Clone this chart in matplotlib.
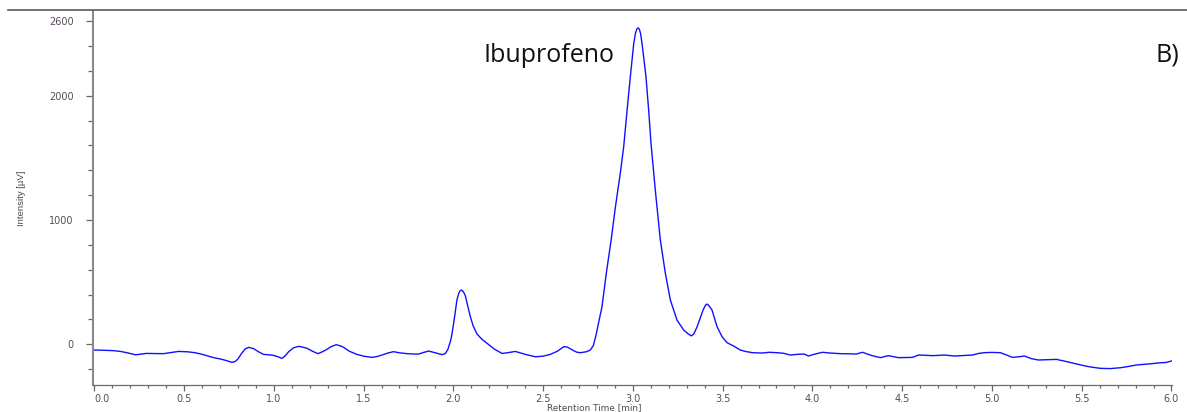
import matplotlib
matplotlib.use("Agg")
import matplotlib.pyplot as plt
from matplotlib.lines import Line2D
from matplotlib.ticker import MultipleLocator, FixedLocator

# Retention time [min]
time_min = [
    0.00, 0.04, 0.08, 0.11, 0.15, 0.19, 0.23, 0.26, 0.29, 0.34, 0.385, 0.43, 0.47, 0.52, 0.56,
    0.60, 0.635, 0.665, 0.70, 0.735, 0.767, 0.785, 0.80, 0.82, 0.84, 0.86, 0.888, 0.915, 0.943,
    0.97, 0.99, 1.02, 1.046, 1.065, 1.083, 1.11, 1.138, 1.16, 1.185, 1.215, 1.246, 1.27, 1.296,
    1.32, 1.348, 1.37, 1.389, 1.42, 1.463, 1.50, 1.547, 1.575, 1.603, 1.635, 1.667, 1.70, 1.742,
    1.78, 1.807, 1.835, 1.862, 1.90, 1.937, 1.955, 1.970, 1.985, 1.993, 2.005, 2.02, 2.030, 2.038,
    2.045, 2.052, 2.060, 2.067, 2.08, 2.095, 2.11, 2.132, 2.16, 2.188, 2.23, 2.271, 2.30, 2.345,
    2.40, 2.457, 2.50, 2.54, 2.58, 2.615, 2.635, 2.67, 2.69, 2.708, 2.74, 2.763, 2.78, 2.797,
    2.81, 2.828, 2.852, 2.879, 2.903, 2.930, 2.949, 2.968, 2.986, 3.005, 3.015, 3.022, 3.029,
    3.036, 3.043, 3.051, 3.073, 3.088, 3.101, 3.125, 3.153, 3.181, 3.209, 3.246, 3.283, 3.310,
    3.326, 3.340, 3.358, 3.391, 3.405, 3.413, 3.422, 3.441, 3.469, 3.497, 3.525, 3.562, 3.599,
    3.63, 3.666, 3.72, 3.76, 3.80, 3.84, 3.877, 3.92, 3.955, 3.978, 4.01, 4.056, 4.10, 4.156,
    4.20, 4.245, 4.279, 4.33, 4.379, 4.423, 4.479, 4.52, 4.557, 4.591, 4.63, 4.669, 4.735, 4.791,
    4.84, 4.891, 4.93, 4.958, 5.00, 5.047, 5.08, 5.114, 5.15, 5.181, 5.22, 5.259, 5.31, 5.359,
    5.42, 5.471, 5.54, 5.604, 5.66, 5.716, 5.76, 5.805, 5.872, 5.939, 5.97, 6.00,
]

# Intensity [µV]
intensity_uv = [
    -46, -47, -49, -51, -58, -70, -84, -79, -73, -74, -75, -65, -57, -60, -67,
    -80, -95, -107, -117, -130, -145, -138, -118, -75, -38, -24, -35, -60, -81,
    -84, -86, -98, -113, -90, -59, -28, -16, -22, -32, -55, -75, -60, -40,
    -18, -3, -12, -24, -55, -81, -95, -105, -98, -86, -70, -59, -68, -75,
    -78, -78, -65, -54, -68, -83, -75, -40, 30, 88, 200, 356, 410, 432,
    437, 430, 412, 390, 310, 222, 150, 83, 40, 8, -40, -73, -68, -57,
    -80, -100, -95, -81, -55, -19, -22, -51, -64, -67, -60, -46, -10, 88,
    180, 302, 571, 839, 1107, 1376, 1590, 1885, 2153, 2421, 2505, 2535, 2546,
    2535, 2500, 2421, 2153, 1885, 1617, 1241, 839, 571, 356, 195, 115, 82,
    68, 85, 142, 276, 316, 324, 314, 276, 142, 61, 13, -14, -46,
    -58, -67, -70, -64, -67, -72, -86, -80, -78, -94, -80, -64, -70, -75,
    -76, -78, -64, -90, -107, -91, -107, -106, -105, -86, -88, -91, -86, -94,
    -90, -86, -72, -67, -65, -67, -85, -105, -100, -94, -115, -126, -123, -121,
    -140, -158, -180, -193, -195, -188, -178, -166, -158, -148, -146, -134,
]

y_major_ticks = [0, 1000, 2000, 2600]
y_minor_ticks = [-200, 200, 400, 600, 800, 1200, 1400, 1600, 1800, 2200, 2400]
x_major_ticks = [0.0, 0.5, 1.0, 1.5, 2.0, 2.5, 3.0, 3.5, 4.0, 4.5, 5.0, 5.5, 6.0]

W, H = 1187, 412
fig = plt.figure(figsize=(W / 100, H / 100), dpi=100)
fig.patch.set_facecolor("white")

left, right = 93, 1172
top, bottom = 11, 385
ax = fig.add_axes([left / W, (H - bottom) / H, (right - left) / W, (bottom - top) / H])

ax.plot(time_min, intensity_uv, color="#1010ff", lw=1.0, solid_joinstyle="round")

ax.set_xlim(-0.007, 6.003)
ax.set_ylim(-327, 2681)

for s in ["top", "right"]:
    ax.spines[s].set_visible(False)
ax.spines["left"].set_color("#8a8a8a")
ax.spines["left"].set_linewidth(1.5)
ax.spines["bottom"].set_color("#6a6a6a")
ax.spines["bottom"].set_linewidth(0.9)

ax.yaxis.set_major_locator(FixedLocator(y_major_ticks))
ax.yaxis.set_minor_locator(FixedLocator(y_minor_ticks))
ax.xaxis.set_major_locator(FixedLocator(x_major_ticks))
ax.xaxis.set_minor_locator(MultipleLocator(0.1))

lab_color = "#5a4a5e"
ax.tick_params(axis="y", which="major", length=5, width=0.9, color="#666666",
               labelsize=7, labelcolor=lab_color, pad=9)
ax.tick_params(axis="y", which="minor", length=3.5, width=0.9, color="#666666")
ax.tick_params(axis="x", which="major", length=4, width=0.9, color="#666666",
               labelsize=7, labelcolor=lab_color, pad=2.5)
ax.tick_params(axis="x", which="minor", length=2.5, width=0.9, color="#666666")

ax.set_yticklabels([str(v) for v in y_major_ticks])
xl = ax.set_xticklabels([f"{v:.1f}" for v in x_major_ticks])
xl[0].set_horizontalalignment("left")

ax.set_xlabel("Retention Time [min]", fontsize=6.4, color="#4a4a4a")
ax.xaxis.set_label_coords((594 - left) / (right - left), -(407.5 - bottom) / (bottom - top))
ax.set_ylabel("Intensity [µV]", fontsize=6.8, color="#4a4a4a", family="Liberation Sans")
ax.yaxis.set_label_coords(-(left - 21) / (right - left), (bottom - 198) / (bottom - top))
ax.xaxis.label.set_verticalalignment("center")
ax.yaxis.label.set_verticalalignment("center")

# top rule
fig.add_artist(Line2D([8 / W, 1.0], [(H - 10) / H, (H - 10) / H], color="#5a5a5a", lw=1.2,
                      transform=fig.transFigure))

fig.text(483 / W, (H - 62) / H, "Ibuprofeno", fontsize=18, family="Open Sans",
         color="#111111", ha="left", va="baseline")
fig.text(1155 / W, (H - 62) / H, "B)", fontsize=18, family="Open Sans",
         color="#111111", ha="left", va="baseline")

fig.savefig("out.png", dpi=100, facecolor="white")
